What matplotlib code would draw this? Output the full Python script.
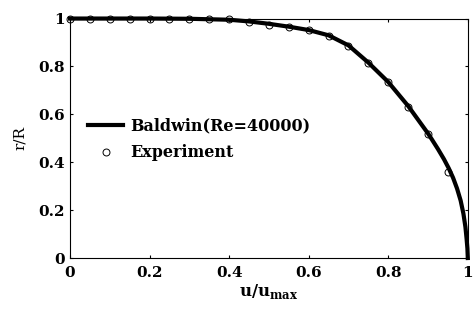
import numpy as np
import matplotlib.pyplot as plt

plt.rcParams['font.family'] = 'DejaVu Serif'
plt.rcParams['font.weight'] = 'bold'
plt.rcParams['mathtext.fontset'] = 'custom'
plt.rcParams['mathtext.bf'] = 'DejaVu Serif:bold'
plt.rcParams['mathtext.rm'] = 'DejaVu Serif'

# Baldwin model curve
baldwin_u = [0.0, 0.2, 0.3, 0.4, 0.45, 0.5, 0.55, 0.6, 0.65, 0.7, 0.75,
             0.8, 0.85, 0.9, 0.909, 0.925, 0.94, 0.952, 0.963, 0.973,
             0.982, 0.989, 0.994, 0.997, 0.999, 1.0]
baldwin_r = [1.0, 1.0, 0.999, 0.995, 0.988, 0.978, 0.966, 0.952, 0.93, 0.888, 0.816,
             0.735, 0.635, 0.52, 0.497, 0.455, 0.413, 0.375, 0.335, 0.29,
             0.24, 0.185, 0.13, 0.08, 0.04, 0.0]

# experiment points
exp_u = [0.0, 0.05, 0.1, 0.15, 0.2, 0.25, 0.3, 0.35, 0.4, 0.45,
         0.5, 0.55, 0.6, 0.65, 0.7, 0.75, 0.8, 0.85, 0.9, 0.95]
exp_r = [1.0, 1.0, 1.0, 1.0, 1.0, 1.0, 1.0, 1.0, 0.996, 0.986,
         0.975, 0.965, 0.954, 0.926, 0.886, 0.814, 0.734, 0.632, 0.518, 0.361]

fig = plt.figure(figsize=(4.73, 3.09), dpi=100)
ax = fig.add_axes([0.148, 0.165, 0.841, 0.775])

ax.plot(baldwin_u, baldwin_r, color='black', lw=3, label='Baldwin(Re=40000)',
        clip_on=False, zorder=2)
ax.plot(exp_u, exp_r, 'o', mfc='none', mec='black', ms=5, mew=0.7,
        label='Experiment', clip_on=False, zorder=3)

ax.set_xlim(0, 1)
ax.set_ylim(0, 1)
ax.set_xticks([0, 0.2, 0.4, 0.6, 0.8, 1])
ax.set_yticks([0, 0.2, 0.4, 0.6, 0.8, 1])
ax.set_xticklabels(['0', '0.2', '0.4', '0.6', '0.8', '1'])
ax.set_yticklabels(['0', '0.2', '0.4', '0.6', '0.8', '1'])
ax.tick_params(direction='in', length=2.5, width=0.8, top=True, right=True,
               labelsize=11)
ax.tick_params(axis='x', pad=6)
ax.tick_params(axis='y', pad=4)
for s in ax.spines.values():
    s.set_linewidth(0.8)

ax.set_xlabel(r'$\mathbf{u/u}_{\mathrm{max}}$', fontsize=12, labelpad=1)
ax.set_ylabel('r/R', fontsize=11, labelpad=8)

ax.legend(loc='center left', bbox_to_anchor=(0.01, 0.495), frameon=False,
          fontsize=11.5, handlelength=2.2, handletextpad=0.4, labelspacing=0.6)

fig.savefig('out.png', dpi=100)
